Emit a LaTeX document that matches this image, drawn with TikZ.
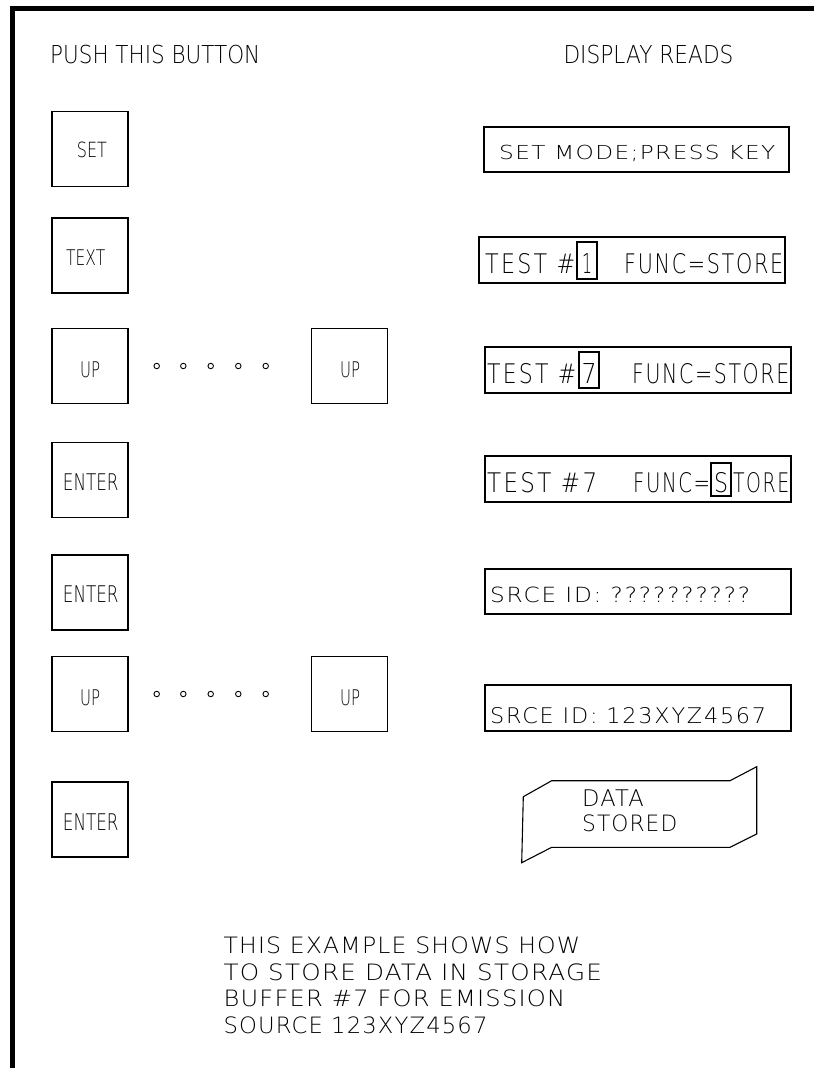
\documentclass[tikz,border=0pt]{standalone}
\usepackage{fontspec}
\usepackage{graphicx}
\IfFontExistsTF{DejaVuSans-ExtraLight.ttf}
 {\newfontfamily\cadfont{DejaVuSans-ExtraLight.ttf}}
 {\IfFontExistsTF{DejaVu Sans ExtraLight}
   {\newfontfamily\cadfont{DejaVu Sans ExtraLight}}
   {\newfontfamily\cadfont{DejaVu Sans}}}
% [letterspace]{width}{cap height}{text}
\newcommand\ctxt[4][0]{\resizebox{#2pt}{#3pt}{\fontsize{20pt}{24pt}\cadfont\addfontfeature{LetterSpace=#1}#4}}
\tikzset{
  btn/.style={draw, line width=1.1pt, minimum width=76pt, minimum height=75pt, inner sep=0pt},
  disp/.style={draw, line width=1.1pt, inner sep=0pt},
  lbl/.style={inner sep=0pt, anchor=base west},
  clbl/.style={inner sep=0pt, anchor=base},
  dotc/.style={circle, draw, line width=0.9pt, minimum size=5.5pt, inner sep=0pt},
  frame/.style={line width=5.5pt, line join=miter},
  banner/.style={draw, line width=1.1pt, line join=miter}
}
\begin{document}
\begin{tikzpicture}[x=1pt,y=-1pt]
\useasboundingbox (0,0) rectangle (814,1068);
% frame
\draw[frame] (12.3,1068) -- (12.3,8.5) -- (814,8.5);
% headings
\node[lbl] (h1) at (50,63.3) {\ctxt{210}{18.3}{PUSH THIS BUTTON}};
\node[lbl] (h2) at (563.3,63.3) {\ctxt{170}{18.3}{DISPLAY READS}};
% buttons
\node[btn] (bset) at (90,149) {};
\node[btn] (btext) at (90,255.5) {};
\node[btn] (bup1) at (90,366) {};
\node[btn] (bup1b) at (349.7,366) {};
\node[btn] (bent1) at (90,480) {};
\node[btn] (bent2) at (90,592.5) {};
\node[btn] (bup2) at (90,694) {};
\node[btn] (bup2b) at (349.7,694) {};
\node[btn] (bent3) at (90,819.5) {};
% button labels
\node[lbl] (lset) at (76.7,157.3) {\ctxt{30}{15.5}{SET}};
\node[lbl] (ltext) at (66,265) {\ctxt{39}{15.7}{TEXT}};
\node[lbl] (lup1) at (80,377.3) {\ctxt{20}{15.7}{UP}};
\node[lbl] (lup1b) at (340,377.3) {\ctxt{20}{15.7}{UP}};
\node[lbl] (lent1) at (62.7,490) {\ctxt{55.7}{16.7}{ENTER}};
\node[lbl] (lent2) at (62.7,602.7) {\ctxt{55.7}{16.7}{ENTER}};
\node[lbl] (lup2) at (80,705.3) {\ctxt{20}{15.7}{UP}};
\node[lbl] (lup2b) at (340,705.3) {\ctxt{20}{15.7}{UP}};
\node[lbl] (lent3) at (62.7,830) {\ctxt{55.7}{16.7}{ENTER}};
% dots
\foreach \xx [count=\i] in {156.7,183.3,210.7,238.3,265.7}{
  \node[dotc] (dA\i) at (\xx,366) {};
  \node[dotc] (dB\i) at (\xx,694) {};
}
% displays
\node[disp, minimum width=305pt, minimum height=45pt] (d1) at (636.5,149.5) {};
\node[disp, minimum width=306pt, minimum height=46pt] (d2) at (632,260) {};
\node[disp, minimum width=306pt, minimum height=46pt] (d3) at (638,370) {};
\node[disp, minimum width=306pt, minimum height=46pt] (d4) at (638,479) {};
\node[disp, minimum width=306pt, minimum height=45pt] (d5) at (638,591.5) {};
\node[disp, minimum width=306pt, minimum height=46pt] (d6) at (638,708) {};
% cursor boxes
\node[disp, minimum width=20pt, minimum height=37pt] (k1) at (587,260.5) {};
\node[disp, minimum width=20pt, minimum height=36pt] (k2) at (589,370) {};
\node[disp, minimum width=20pt, minimum height=33pt] (k3) at (721,479.5) {};
% display texts
\node[lbl] (t1) at (499,159.3) {\ctxt[6]{276}{14.3}{SET MODE;PRESS KEY}};
\node[lbl] (t2a) at (485,273) {\ctxt[10]{90}{20}{TEST \#}};
\node[clbl] (c1) at (587,273) {\ctxt{10}{20}{1}};
\node[lbl] (t2c) at (624,273) {\ctxt[8]{159}{20}{FUNC=STORE}};
\node[lbl] (t3a) at (487,383) {\ctxt[10]{89}{20}{TEST \#}};
\node[clbl] (c2) at (589,383) {\ctxt{15}{20}{7}};
\node[lbl] (t3c) at (632,383) {\ctxt[8]{157}{20}{FUNC=STORE}};
\node[lbl] (t4a) at (487,492) {\ctxt[10]{110}{20}{TEST \#7}};
\node[lbl] (t4b) at (633,492) {\ctxt[8]{77}{20}{FUNC=}};
\node[clbl] (c3) at (721,492) {\ctxt{14}{20}{S}};
\node[lbl] (t4d) at (733,492) {\ctxt[8]{56}{20}{TORE}};
\node[lbl] (t5) at (490,602) {\ctxt[8]{260}{15.5}{SRCE ID: ??????????}};
\node[lbl] (t6) at (490,723) {\ctxt[8]{276}{16}{SRCE ID: 123XYZ4567}};
% banner
\draw[banner] (523.3,796.7) -- (551.7,780.7) -- (730,780.7) -- (756.7,766.7)
  -- (756.7,834) -- (730,847.3) -- (551.7,847.3) -- (521.7,862.7) -- cycle;
\node[lbl] (s1) at (582,806.7) {\ctxt[5]{61.7}{16.7}{DATA}};
\node[lbl] (s2) at (582,831.7) {\ctxt[5]{95}{16.7}{STORED}};
% note
\node[lbl] (n1) at (223.3,953.3) {\ctxt[5]{356.7}{16.7}{THIS EXAMPLE SHOWS HOW}};
\node[lbl] (n2) at (223.3,980) {\ctxt[5]{378.4}{16.7}{TO STORE DATA IN STORAGE}};
\node[lbl] (n3) at (223.3,1006.7) {\ctxt[5]{341.7}{16.7}{BUFFER \#7 FOR EMISSION}};
\node[lbl] (n4) at (223.3,1033.3) {\ctxt[5]{264}{16.7}{SOURCE 123XYZ4567}};
\end{tikzpicture}
\end{document}
